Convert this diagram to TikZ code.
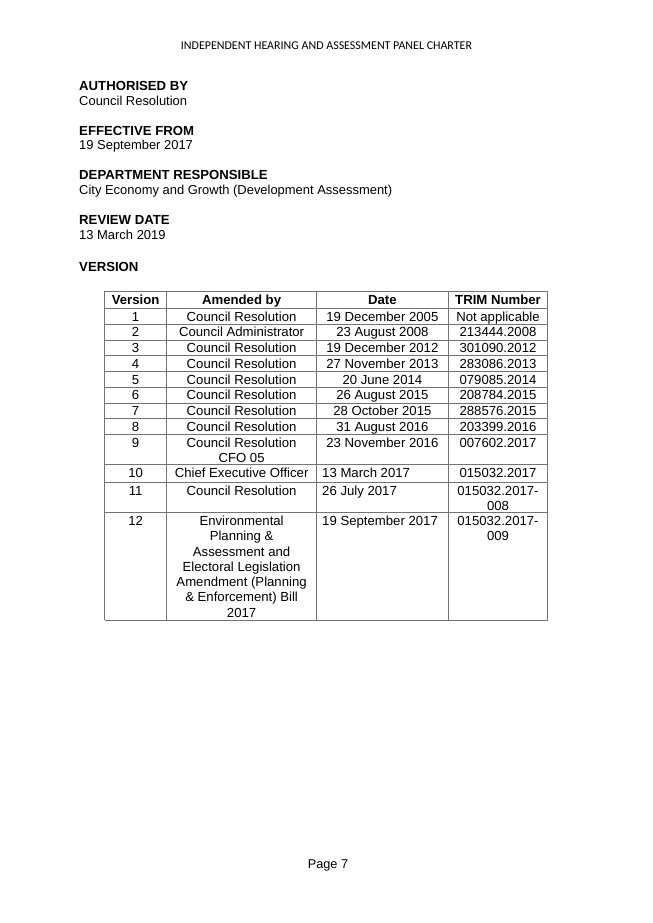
\documentclass[tikz,border=0pt]{standalone}
\usepackage{fontspec}
\setmainfont{Liberation Sans}
\newfontfamily\hdrfont{Carlito}
\tikzset{
  x=0.9116pt,
  y=-0.9116pt,
}
\newcommand\cellstack[1]{\begin{tabular}[t]{@{}c@{}}#1\end{tabular}}
\tikzstyle{rule}=[draw=black!55,line width=0.75pt]
\tikzstyle{every node}=[inner sep=0pt,font=\fontsize{11.8}{13.9}\selectfont]
\tikzstyle{title}=[anchor=base west,font=\fontsize{12}{13.9}\selectfont\bfseries]
\tikzstyle{txt}=[anchor=base west]
\tikzstyle{cell}=[anchor=base,font=\fontsize{12}{13.9}\selectfont]
\tikzstyle{hcell}=[cell,font=\fontsize{12}{13.9}\selectfont\bfseries]
\tikzstyle{lcell}=[anchor=base west,font=\fontsize{12}{13.9}\selectfont]

\begin{document}
\begin{tikzpicture}
        \useasboundingbox (0,0) rectangle (653,923);
        % running head and foot
        \node[anchor=base,font=\hdrfont\fontsize{10.9}{12}\selectfont] (hdr) at (326.5,49.7) {INDEPENDENT HEARING AND ASSESSMENT PANEL CHARTER};
        \node[anchor=base,font=\fontsize{11.6}{13.9}\selectfont] (foot) at (328,868.3) {Page 7};
        % headings
        \node[title] (auth) at (79,90.7) {AUTHORISED BY};
        \node[txt] (authv) at (79,105) {Council Resolution};
        \node[title] (eff) at (79,135.2) {EFFECTIVE FROM};
        \node[txt] (effv) at (79,149.5) {19 September 2017};
        \node[title] (dept) at (79,179.9) {DEPARTMENT RESPONSIBLE};
        \node[txt] (deptv) at (79,194.2) {City Economy and Growth (Development Assessment)};
        \node[title] (rev) at (79,224.7) {REVIEW DATE};
        \node[txt] (revv) at (79,239) {13 March 2019};
        \node[title] (ver) at (79,271) {VERSION};
        % table rules
        \foreach \y in {291,308.5,324.25,340,355.75,371.5,387.25,403,418.75,434.5,464.5,482.3,512.7,620}
          \draw[rule] (104.5,\y)--(547.7,\y);
        \foreach \x in {104.5,166.7,316.5,448.3,547.7}
          \draw[rule] (\x,291)--(\x,620);
        % header row
        \node[hcell] (hv) at (135.6,304) {Version};
        \node[hcell] (ha) at (241.6,304) {Amended by};
        \node[hcell] (hd) at (382.4,304) {Date};
        \node[hcell] (ht) at (498,304) {TRIM Number};
        % single line rows
        \foreach \v/\a/\d/\t [count=\i] in {
            1/Council Resolution/19 December 2005/Not applicable,
            2/Council Administrator/23 August 2008/213444.2008,
            3/Council Resolution/19 December 2012/301090.2012,
            4/Council Resolution/27 November 2013/283086.2013,
            5/Council Resolution/20 June 2014/079085.2014,
            6/Council Resolution/26 August 2015/208784.2015,
            7/Council Resolution/28 October 2015/288576.2015,
            8/Council Resolution/31 August 2016/203399.2016}{
          \pgfmathsetmacro\yb{308.5+(\i-1)*15.75+12.6}
          \node[cell] (v\i) at (135.6,\yb) {\v};
          \node[cell] (a\i) at (241.6,\yb) {\a};
          \node[cell] (d\i) at (382.4,\yb) {\d};
          \node[cell] (t\i) at (498,\yb) {\t};
        }
        % longer rows
        \node[cell] (v9) at (135.6,447.1) {9};
        \node[cell] (a9) at (241.6,447.1) {\cellstack{Council Resolution\\CFO 05}};
        \node[cell] (d9) at (382.4,447.1) {23 November 2016};
        \node[cell] (t9) at (498,447.1) {007602.2017};
        \node[cell] (v10) at (135.6,477.3) {10};
        \node[cell] (a10) at (241.6,477.3) {Chief Executive Officer};
        \node[lcell] (d10) at (322,477.3) {13 March 2017};
        \node[cell] (t10) at (498,477.3) {015032.2017};
        \node[cell] (v11) at (135.6,495.3) {11};
        \node[cell] (a11) at (241.6,495.3) {Council Resolution};
        \node[lcell] (d11) at (322,495.3) {26 July 2017};
        \node[cell] (t11) at (498,495.3) {\cellstack{015032.2017-\\008}};
        \node[cell] (v12) at (135.6,525.7) {12};
        \node[cell] (a12) at (241.6,525.7) {\cellstack{Environmental\\Planning \&\\Assessment and\\Electoral Legislation\\Amendment (Planning\\\& Enforcement) Bill\\2017}};
        \node[lcell] (d12) at (322,525.7) {19 September 2017};
        \node[cell] (t12) at (498,525.7) {\cellstack{015032.2017-\\009}};
      \end{tikzpicture}
\end{document}
